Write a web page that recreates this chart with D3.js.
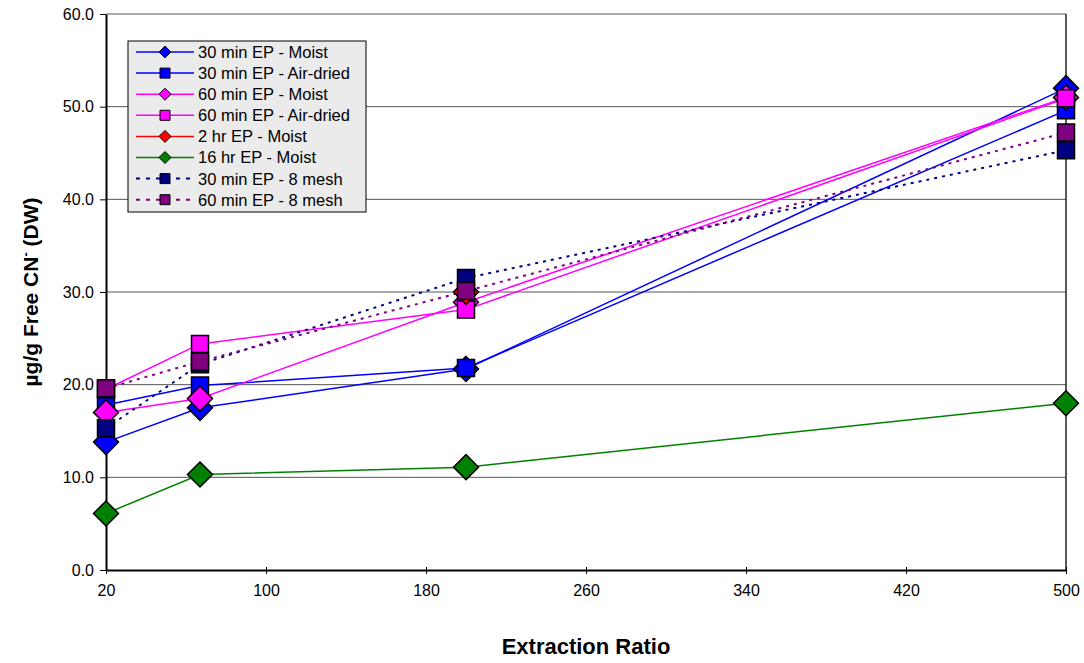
<!DOCTYPE html>
<html>
<head>
<meta charset="utf-8">
<script src="https://cdn.jsdelivr.net/npm/d3@7"></script>
<style>
  body { margin: 0; background: #fff; }
  text { font-family: "Liberation Sans", Arial, sans-serif; }
</style>
</head>
<body>
<div id="chart"></div>
<script>
// extraction ratios
const ratios = [20, 67, 200, 500];
const xTicks = [20, 100, 180, 260, 340, 420, 500];
const yTicks = [0, 10, 20, 30, 40, 50, 60];

const seriesNames = [
    "30 min EP - Moist",
    "30 min EP - Air-dried",
    "60 min EP - Moist",
    "60 min EP - Air-dried",
    "2 hr EP - Moist",
    "16 hr EP - Moist",
    "30 min EP - 8 mesh",
    "60 min EP - 8 mesh"
];
const min30Moist = [13.8, 17.5, 21.7, 52.0];
const min30Air = [17.8, 19.9, 21.8, 49.6];
const min60Moist = [17.0, 18.5, 28.9, 51.0];
const min60Air = [19.5, 24.4, 28.1, 50.9];
const hr2Moist = [null, null, 30.0, null];
const hr16Moist = [6.1, 10.3, 11.1, 18.0];
const min30Mesh = [15.3, 22.2, 31.5, 45.3];
const min60Mesh = [19.6, 22.5, 30.1, 47.2];

const seriesValues = [min30Moist, min30Air, min60Moist, min60Air, hr2Moist, hr16Moist, min30Mesh, min60Mesh];
const colors = ["#0000ff", "#0000ff", "#ff00ff", "#ff00ff", "#ff0000", "#008000", "#000080", "#800080"];
const symbols = ["diamond", "square", "diamond", "square", "diamond", "diamond", "square", "square"];
const dashed = [false, false, false, false, false, false, true, true];

const width = 1084;
const height = 663;
const margin = { top: 14, right: 18, bottom: 93, left: 106 };

const svg = d3.select("#chart")
    .append("svg")
    .attr("width", width)
    .attr("height", height);

const xScale = d3.scaleLinear()
    .domain([20, 500])
    .range([margin.left, width - margin.right]);

const yScale = d3.scaleLinear()
    .domain([0, 60])
    .range([height - margin.bottom, margin.top]);

// marker shapes (square diamond, not the tall d3 one)
const markerPath = (type, r) => type === "diamond"
    ? `M0,${-r}L${r},0L0,${r}L${-r},0Z`
    : `M${-r},${-r}H${r}V${r}H${-r}Z`;

// gridlines
svg.append("g")
    .selectAll("line")
    .data(yTicks.slice(1))
    .join("line")
    .attr("x1", margin.left)
    .attr("x2", width - margin.right)
    .attr("y1", d => yScale(d))
    .attr("y2", d => yScale(d))
    .attr("stroke", "#555")
    .attr("stroke-width", 1);

// right border
svg.append("line")
    .attr("x1", width - margin.right)
    .attr("x2", width - margin.right)
    .attr("y1", margin.top)
    .attr("y2", height - margin.bottom)
    .attr("stroke", "#222")
    .attr("stroke-width", 1.5);

// axes
const xAxis = svg.append("g")
    .attr("transform", `translate(0,${height - margin.bottom})`)
    .call(d3.axisBottom(xScale).tickValues(xTicks).tickSize(6).tickSizeOuter(0).tickPadding(9));
const yAxis = svg.append("g")
    .attr("transform", `translate(${margin.left},0)`)
    .call(d3.axisLeft(yScale).tickValues(yTicks).tickFormat(d3.format(".1f")).tickSize(6).tickSizeOuter(0).tickPadding(6));

[xAxis, yAxis].forEach(a => {
    a.select(".domain").attr("stroke", "#000").attr("stroke-width", 2);
    a.selectAll(".tick line").attr("stroke", "#000").attr("stroke-width", 1);
    a.selectAll(".tick text").attr("font-size", 16).attr("fill", "#000")
        .style("font-family", "'Liberation Sans', Arial, sans-serif");
});
// x ticks cross the axis line
xAxis.selectAll(".tick line").attr("y1", -3).attr("y2", 4);

// lines
const line = d3.line()
    .defined(d => d.v != null)
    .x(d => xScale(d.x))
    .y(d => yScale(d.v));

seriesValues.forEach((vals, i) => {
    const pts = vals.map((v, j) => ({ x: ratios[j], v }));
    svg.append("path")
        .datum(pts)
        .attr("fill", "none")
        .attr("stroke", colors[i])
        .attr("stroke-width", dashed[i] ? 2 : 1.5)
        .attr("stroke-dasharray", dashed[i] ? "3,5" : null)
        .attr("d", line);
});

seriesValues.forEach((vals, i) => {
    const pts = vals.map((v, j) => ({ x: ratios[j], v })).filter(d => d.v != null);
    const r = symbols[i] === "diamond" ? 12.5 : 8.5;
    svg.append("g")
        .selectAll("path")
        .data(pts)
        .join("path")
        .attr("transform", d => `translate(${xScale(d.x)},${yScale(d.v)})`)
        .attr("d", markerPath(symbols[i], r))
        .attr("fill", colors[i])
        .attr("stroke", "#000")
        .attr("stroke-width", 1.5);
});

// legend
const legend = svg.append("g").attr("transform", "translate(128,41)");
legend.append("rect")
    .attr("width", 238)
    .attr("height", 171)
    .attr("fill", "#ebebeb")
    .attr("stroke", "#000")
    .attr("stroke-width", 1);

seriesNames.forEach((name, i) => {
    const y = 11 + i * 21.1;
    const g = legend.append("g").attr("transform", `translate(0,${y})`);
    g.append("line")
        .attr("x1", 8).attr("x2", 66)
        .attr("stroke", colors[i])
        .attr("stroke-width", dashed[i] ? 2 : 1.5)
        .attr("stroke-dasharray", dashed[i] ? "4,6" : null);
    g.append("path")
        .attr("transform", "translate(37,0)")
        .attr("d", markerPath(symbols[i], symbols[i] === "diamond" ? 6 : 5))
        .attr("fill", colors[i])
        .attr("stroke", "#000")
        .attr("stroke-width", 1);
    g.append("text")
        .attr("x", 70)
        .attr("dy", "0.36em")
        .attr("font-size", 16.5)
        .text(name);
});

// axis titles
svg.append("text")
    .attr("x", (margin.left + width - margin.right) / 2)
    .attr("y", 654)
    .attr("text-anchor", "middle")
    .attr("font-size", 22)
    .attr("font-weight", "bold")
    .text("Extraction Ratio");

const yTitle = svg.append("text")
    .attr("transform", `translate(38,${(margin.top + height - margin.bottom) / 2}) rotate(-90)`)
    .attr("text-anchor", "middle")
    .attr("font-size", 21)
    .attr("font-weight", "bold");
yTitle.append("tspan").text("µg/g Free CN");
yTitle.append("tspan").attr("dy", -8).attr("font-size", 13).text("-");
yTitle.append("tspan").attr("dy", 8).text(" (DW)");
</script>
</body>
</html>
